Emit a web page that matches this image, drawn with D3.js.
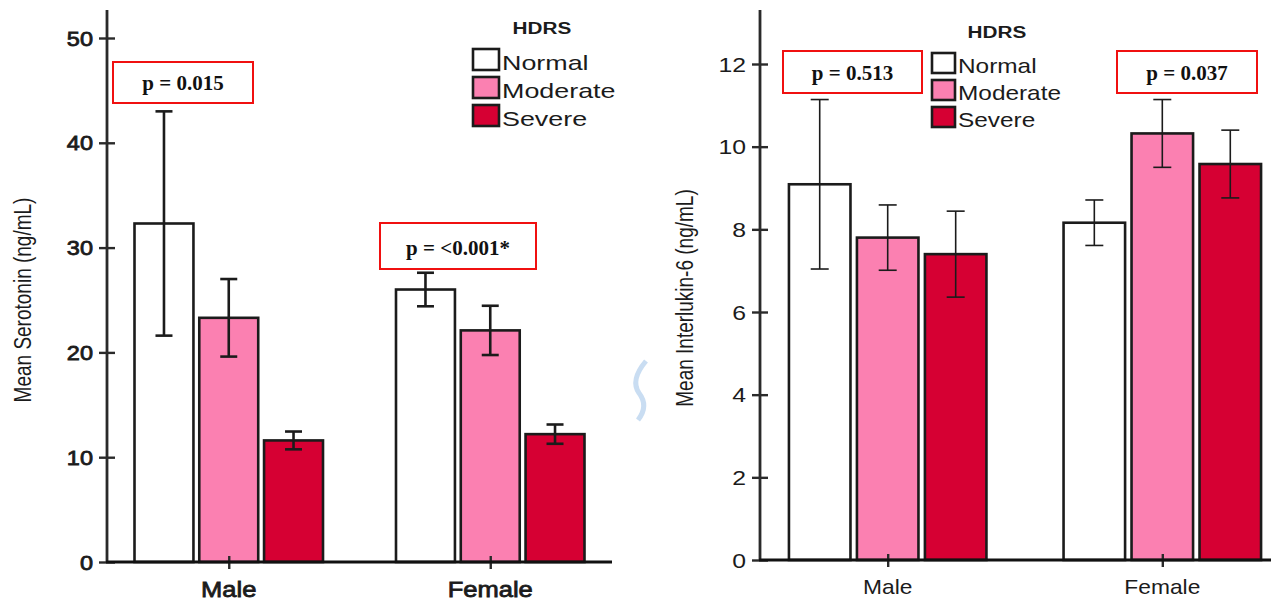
<!DOCTYPE html>
<html>
<head>
<meta charset="utf-8">
<script src="https://cdn.jsdelivr.net/npm/d3@7"></script>
<style>
  body { margin: 0; background: #fff; }
  svg { display: block; }
</style>
</head>
<body>
<svg id="chart" width="1271" height="603"></svg>
<script>
// Categories
const groups = ["Male", "Female"];
const levels = ["Normal", "Moderate", "Severe"];
const levelColors = ["#ffffff", "#fb80b1", "#d60033"];
const legendTitle = "HDRS";

// Serotonin (ng/mL): means and error half-widths per HDRS level
const serotoninMale = [32.3, 23.3, 11.6];
const serotoninFemale = [26.0, 22.1, 12.2];
const serotoninMaleErr = [10.7, 3.7, 0.85];
const serotoninFemaleErr = [1.6, 2.35, 0.92];
const serotoninTicks = [0, 10, 20, 30, 40, 50];
const serotoninMinor = [5, 15, 25, 35, 45];
const serotoninP = ["p = 0.015", "p = <0.001*"];

// Interleukin-6 (ng/mL)
const il6Male = [9.09, 7.8, 7.4];
const il6Female = [8.16, 10.32, 9.58];
const il6MaleErr = [2.05, 0.79, 1.04];
const il6FemaleErr = [0.55, 0.82, 0.82];
const il6Ticks = [0, 2, 4, 6, 8, 10, 12];
const il6Minor = [1, 3, 5, 7, 9, 11, 13];
const il6P = ["p = 0.513", "p = 0.037"];

const svg = d3.select("#chart");
const SANS = "'Liberation Sans', Arial, sans-serif";
const SERIF = "'Liberation Serif', 'Times New Roman', serif";
const INK = "#1b1b1b";

// Text helper with a horizontal stretch factor and optional outline weight
function label(g, txt, x, y, o) {
  const t = g.append("text")
    .attr("transform", `translate(${x},${y}) scale(${o.sx || 1},1)` + (o.rot ? ` rotate(${o.rot})` : ""))
    .attr("font-family", o.family || SANS)
    .attr("font-size", o.size)
    .attr("font-weight", o.weight || "normal")
    .attr("text-anchor", o.anchor || "start")
    .attr("fill", o.fill || INK)
    .text(txt);
  if (o.dy) t.attr("dy", o.dy);
  if (o.heavy) t.attr("stroke", o.fill || INK).attr("stroke-width", o.heavy);
  return t;
}

function panel(c) {
  const g = svg.append("g");
  const y = d3.scaleLinear().domain([0, c.tickTop]).range([c.y0, c.yTick]);
  const x0 = d3.scalePoint().domain(groups).range([c.axisX, c.xEnd]).padding(c.pad);
  const x1 = d3.scaleBand().domain(levels).range([-c.groupW / 2, c.groupW / 2]).paddingInner(c.inner);
  const color = d3.scaleOrdinal().domain(levels).range(levelColors);

  const rows = groups.map((gr, i) => levels.map((lv, j) => ({
    group: gr, level: lv, v: c.means[i][j], e: c.errs[i][j]
  }))).flat();

  // Bars
  g.selectAll("rect.bar").data(rows).join("rect")
    .attr("class", "bar")
    .attr("x", d => x0(d.group) + x1(d.level))
    .attr("width", x1.bandwidth())
    .attr("y", d => y(d.v))
    .attr("height", d => y(0) - y(d.v))
    .attr("fill", d => color(d.level))
    .attr("stroke", INK)
    .attr("stroke-width", 2.6);

  // Error bars
  const eb = g.selectAll("g.err").data(rows).join("g")
    .attr("class", "err")
    .attr("transform", d => `translate(${x0(d.group) + x1(d.level) + x1.bandwidth() / 2},0)`)
    .attr("stroke", INK)
    .attr("stroke-width", c.errW);
  eb.append("line").attr("y1", d => y(d.v - d.e)).attr("y2", d => y(d.v + d.e));
  eb.append("line").attr("x1", -c.cap / 2).attr("x2", c.cap / 2)
    .attr("y1", d => y(d.v + d.e)).attr("y2", d => y(d.v + d.e));
  eb.append("line").attr("x1", -c.cap / 2).attr("x2", c.cap / 2)
    .attr("y1", d => y(d.v - d.e)).attr("y2", d => y(d.v - d.e));

  // Y axis: major ticks cross the spine, minor ticks sit on the left
  const ax = g.append("g").attr("transform", `translate(${c.axisX},0)`);
  ax.call(d3.axisLeft(y).tickValues(c.minor).tickSize(8).tickFormat(""));
  ax.call(d3.axisLeft(y).tickValues(c.ticks).tickSize(8).tickFormat(""));
  ax.selectAll(".domain").remove();
  ax.selectAll(".tick line").attr("stroke", "#2a2a2a").attr("stroke-width", 2.4);
  ax.selectAll(".tick").filter(d => c.ticks.includes(d)).select("line").attr("x1", 8);
  c.ticks.forEach(t => label(g, String(t), c.axisX - 14, y(t), {
    size: c.tickSize, sx: c.tickSx, anchor: "end", dy: "0.36em", heavy: c.heavy
  }));
  g.append("line")
    .attr("x1", c.axisX).attr("x2", c.axisX)
    .attr("y1", y(0) + 1).attr("y2", c.yTop)
    .attr("stroke", "#2a2a2a").attr("stroke-width", 2.8);

  // X axis
  const bx = g.append("g").attr("transform", `translate(0,${y(0)})`);
  bx.call(d3.axisBottom(x0).tickSize(7).tickFormat(""));
  bx.select(".domain").remove();
  bx.selectAll(".tick line").attr("y1", -6).attr("stroke", "#2a2a2a").attr("stroke-width", 2.4);
  g.append("line")
    .attr("x1", c.axisX - 1).attr("x2", c.xEnd)
    .attr("y1", y(0)).attr("y2", y(0))
    .attr("stroke", "#111").attr("stroke-width", 2.8);
  groups.forEach(gr => label(g, gr, x0(gr), c.xLabelY, {
    size: c.xSize, sx: c.xSx, anchor: "middle", heavy: c.heavy
  }));

  // Y title
  label(g, c.title, c.titleX, c.titleY, { size: 19, sx: 1.22, anchor: "middle", rot: -90 });

  // Legend
  const lg = c.legend;
  label(g, legendTitle, lg.titleX, lg.titleY, { size: lg.titleSize, sx: lg.titleSx, anchor: "middle", weight: "bold" });
  levels.forEach((lv, j) => {
    const top = lg.y + j * lg.step;
    g.append("rect")
      .attr("x", lg.x).attr("y", top).attr("width", lg.w).attr("height", lg.h)
      .attr("fill", color(lv)).attr("stroke", INK).attr("stroke-width", 2.6);
    label(g, lv, lg.x + lg.w + 3, top + lg.h, { size: lg.size, sx: lg.sx });
  });

  // p-value boxes
  c.pBoxes.forEach((b, i) => {
    g.append("rect")
      .attr("x", b.x).attr("y", b.y).attr("width", b.w).attr("height", b.h)
      .attr("fill", "#fff").attr("stroke", "#f01010").attr("stroke-width", 2);
    label(g, c.p[i], b.x + b.w / 2, b.y + b.h * 0.69, {
      size: 21, family: SERIF, weight: "bold", anchor: "middle", fill: "#111"
    });
  });
}

panel({
  means: [serotoninMale, serotoninFemale],
  errs: [serotoninMaleErr, serotoninFemaleErr],
  ticks: serotoninTicks, minor: serotoninMinor, p: serotoninP,
  title: "Mean Serotonin (ng/mL)",
  tickTop: 50, y0: 562, yTick: 38, yTop: 10,
  axisX: 107, xEnd: 612, pad: 0.4656, groupW: 188.5, inner: 0.09,
  errW: 2.6, cap: 17,
  tickSize: 21, tickSx: 1.12, heavy: 0.8,
  xSize: 22, xSx: 1.16, xLabelY: 597,
  titleX: 31, titleY: 300,
  legend: { titleX: 542, titleY: 34, titleSize: 17, titleSx: 1.22,
            x: 473, y: 49, w: 26, h: 21, step: 28, size: 21, sx: 1.28 },
  pBoxes: [
    { x: 113, y: 62, w: 140, h: 41 },
    { x: 380, y: 223, w: 156, h: 46 }
  ]
});

panel({
  means: [il6Male, il6Female],
  errs: [il6MaleErr, il6FemaleErr],
  ticks: il6Ticks, minor: il6Minor, p: il6P,
  title: "Mean Interlukin-6 (ng/mL)",
  tickTop: 12, y0: 560, yTick: 64, yTop: 10,
  axisX: 760, xEnd: 1290, pad: 0.465, groupW: 197.5, inner: 0.095,
  errW: 1.6, cap: 18,
  tickSize: 21, tickSx: 1.18, heavy: 0,
  xSize: 20, xSx: 1.14, xLabelY: 594,
  titleX: 693, titleY: 298,
  legend: { titleX: 997, titleY: 38, titleSize: 17, titleSx: 1.22,
            x: 932, y: 53, w: 23, h: 20, step: 27, size: 20, sx: 1.22 },
  pBoxes: [
    { x: 783, y: 51, w: 139, h: 42 },
    { x: 1117, y: 51, w: 140, h: 42 }
  ]
});

// faint watermark stroke between the panels
svg.append("path")
  .attr("d", "M646,361 Q630,380 639,393 Q649,406 638,420")
  .attr("fill", "none").attr("stroke", "#c9ddf2").attr("stroke-width", 5);
</script>
</body>
</html>
